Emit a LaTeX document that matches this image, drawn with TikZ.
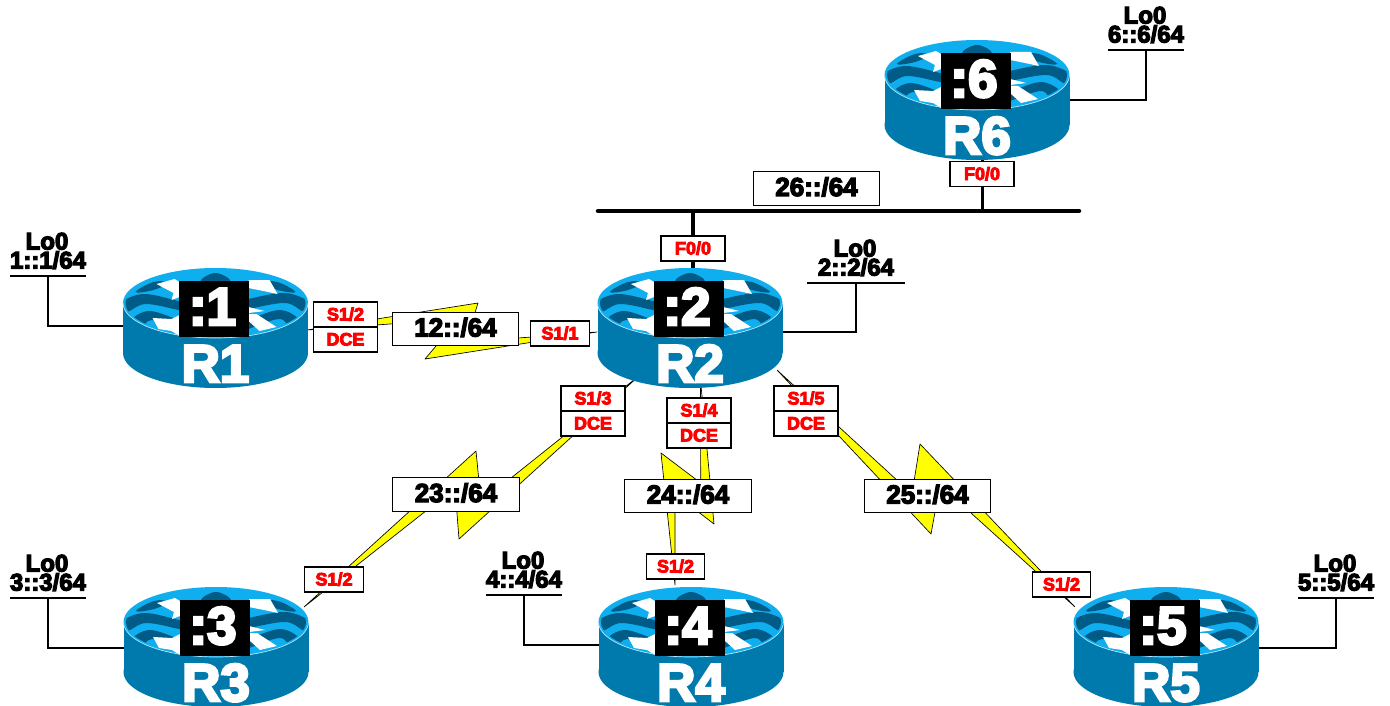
\documentclass[tikz,border=0pt]{standalone}
\usepackage{fontspec}
\usetikzlibrary{backgrounds}
\newfontfamily\hv{Liberation Sans}[BoldFeatures={FakeBold=5}]
\newcommand{\fnt}[1]{\hv\bfseries\fontsize{#1}{#1}\selectfont}
\definecolor{rbody}{HTML}{0079AD}
\definecolor{rtop}{HTML}{0FAEEF}
\definecolor{rdark}{HTML}{005C87}
\definecolor{boltc}{HTML}{FFFF00}
\tikzset{
  x=1pt,y=-1pt,
  wire/.style={draw=black,line width=1.1pt},
  lbl/.style={draw=black,line width=1.2pt,fill=white,text=red,font=\fnt{18},inner sep=0pt,minimum width=64pt,minimum height=25pt,text height=13pt,text depth=1pt,align=center},
  lbls/.style={lbl,minimum width=58.5pt},
  net/.style={draw=black,line width=1.2pt,fill=white,text=black,font=\fnt{26},inner sep=0pt,minimum width=126.5pt,minimum height=33.5pt,text height=19pt,text depth=4pt},
  loname/.style={text=black,font=\fnt{24},inner sep=0pt,text height=17pt,text depth=0pt},
  bolt/.style={draw=black,line width=.65pt,fill=boltc,line join=round},
  rnode/.style={inner sep=0pt,minimum width=185pt,minimum height=118pt},
  rid/.style={text=white,font=\fnt{53},inner sep=0pt,anchor=base,text depth=0pt},
  wave/.style={fill=rdark,draw=none},
  arrowwhite/.style={fill=white,draw=none},
}
\newcommand{\router}[5]{%
\begin{scope}[shift={(#2,#3)}]
  \fill[rbody] (0,50) circle [x radius=92.5pt,y radius=35pt];
  \fill[rbody] (-92.5,0) rectangle (92.5,50);
  \fill[rtop] (0,0) circle [x radius=92.5pt,y radius=35pt];
  \begin{scope}
    \clip (0,0) circle [x radius=90pt,y radius=33pt];
    \fill[wave] plot[smooth cycle,tension=.6] coordinates {(-95,0) (-72,-9) (-37,-2) (-30,0) (-30,8) (-37,7) (-70,1) (-89,9)};
    \fill[wave] plot[smooth cycle,tension=.6] coordinates {(-84,17) (-66,8) (-37,17) (-30,20) (-30,28) (-37,26) (-64,17) (-76,26)};
    \fill[wave] plot[smooth cycle,tension=.6] coordinates {(95,0) (70,-10) (33,-4) (28,-1) (28,7) (33,6) (70,0) (89,9)};
    \fill[wave] plot[smooth cycle,tension=.6] coordinates {(84,17) (64,7) (33,17) (28,20) (28,28) (33,26) (64,16) (76,26)};
    \fill[wave] plot[smooth cycle,tension=.7] coordinates {(-15,-22) (0,-30) (15,-22) (0,-18)};
    \fill[wave] plot[smooth cycle,tension=.7] coordinates {(-80,-11) (-62,-21) (-48,-20) (-62,-13)};
    \fill[wave] plot[smooth cycle,tension=.7] coordinates {(80,-11) (62,-21) (48,-20) (62,-13)};
  \end{scope}
  \fill[arrowwhite] (-59,-19) -- (-41,-24) -- (-36,-21) -- (-36,-6) -- (-44,-3) -- (-42,-10) -- cycle;
  \fill[arrowwhite] (33,-23) -- (54,-23) -- (62,-9) -- (48,-12) -- (33,-15) -- cycle;
  \fill[arrowwhite] (-63,15) -- (-44,16) -- (-36,12) -- (-36,33) -- (-44,28) -- (-57,26) -- cycle;
  \fill[arrowwhite] (33,11) -- (41,11) -- (61,24) -- (44,28) -- (33,18) -- cycle;
  \fill[arrowwhite] (33,4) -- (49,8) -- (33,10) -- cycle;
  \draw[white!70!rtop,line width=.7pt] (-92.5,0) .. controls (-92.5,19.3) and (-51,35) .. (0,35) .. controls (51,35) and (92.5,19.3) .. (92.5,0);
  \fill[black] (-36.5,-22) rectangle (33.5,34);
  \node[rid] (#1id) at (-3,22) {#4};
  \node[rid] (#1name) at (0,79) {#5};
  \node[rnode] (#1) at (0,25) {};
\end{scope}}
\newcommand{\bolt}[7]{%
  \coordinate (#1a) at #2; \coordinate (#1b) at #3; \coordinate (#1c) at #4;
  \coordinate (#1d) at #5; \coordinate (#1e) at #6; \coordinate (#1f) at #7;
  \draw[bolt] (#1a) -- (#1b) -- (#1c) -- (#1d) -- (#1e) -- (#1f) -- cycle;}
% name, bar centre x, bar y, half width, loopback text
\newcommand{\lopb}[5]{%
  \coordinate (#1c) at (#2,#3);
  \coordinate (#1l) at (#2-#4,#3);
  \coordinate (#1r) at (#2+#4,#3);
  \draw[wire,line width=1.5pt] (#1l) -- (#1r);
  \node[loname] (#1t) at (#2-1,#3-35) {Lo0};
  \node[loname] (#1u) at (#2,#3-16) {#5};}
\begin{document}
\begin{tikzpicture}
\useasboundingbox (0,0) rectangle (1390,706);
\router{R1}{215.5}{303}{:1}{R1}
\router{R2}{690}{303}{:2}{R2}
\router{R3}{216}{622}{:3}{R3}
\router{R4}{691}{622}{:4}{R4}
\router{R5}{1166}{622}{:5}{R5}
\router{R6}{977}{75}{:6}{R6}

\lopb{L1}{48}{276}{38}{1::1/64}
\lopb{L2}{856}{283}{49}{2::2/64}
\lopb{L3}{48}{598}{38}{3::3/64}
\lopb{L4}{524}{595}{38}{4::4/64}
\lopb{L5}{1336}{598}{38}{5::5/64}
\lopb{L6}{1146}{50}{38}{6::6/64}

\node[lbl] (a1) at (345.5,314.5) {S1/2};
\node[lbl] (a2) at (345.5,339.5) {DCE};
\node[lbls] (a3) at (560,333.5) {S1/1};
\node[net] (n12) at (455.5,329) {12::/64};
\node[lbl] (b1) at (593,398.5) {S1/3};
\node[lbl] (b2) at (593,423.5) {DCE};
\node[lbl] (c1) at (699,410.5) {S1/4};
\node[lbl] (c2) at (699,435.5) {DCE};
\node[lbl] (d1) at (806,398.5) {S1/5};
\node[lbl] (d2) at (806,423.5) {DCE};
\node[net] (n23) at (456,494.5) {23::/64};
\node[net] (n24) at (688,496) {24::/64};
\node[net] (n25) at (927.5,496) {25::/64};
\node[lbls] (e3) at (334,579.5) {S1/2};
\node[lbls] (e4) at (675.5,566.5) {S1/2};
\node[lbls] (e5) at (1061.5,584.5) {S1/2};
\node[lbl] (f2) at (693,248.5) {F0/0};
\node[lbl] (f6) at (982,174) {F0/0};
\node[net] (n26) at (816.5,188.5) {26::/64};

\begin{scope}[on background layer]
  \coordinate (busl) at (598,211);
  \coordinate (busr) at (1079,211);
  \coordinate (bus2) at (693,211);
  \coordinate (bus6) at (982.5,211);
  \draw[line width=4.5pt,line cap=round] (busl) -- (busr);
  \draw[line width=3.2pt] (bus2) -- (bus2 |- R2);
  \draw[line width=3.2pt] (bus6) -- (bus6 |- R6);
  \draw[wire] (L1c) |- (R1.center |- 0,326);
  \draw[wire] (L3c) |- (R3.center |- 0,648);
  \draw[wire] (L4c) |- (R4.center |- 0,645);
  \draw[wire] (L5c) |- (R5.center |- 0,648);
  \draw[wire] (L2c) |- (R2.center |- 0,332);
  \draw[wire] (L6c) |- (R6.center |- 0,100);
  \bolt{k}{(307,330)}{(459,319)}{(425,359)}{(597,332)}{(466,342)}{(478,303)}
  \bolt{m}{(640,375)}{(481,502)}{(476,451)}{(304,607)}{(455,488)}{(459,539)}
  \bolt{p}{(700.5,380)}{(700.7,483)}{(661,453)}{(675,585)}{(675,494)}{(714,524)}
  \bolt{q}{(777,370)}{(912,494)}{(920,444)}{(1075,607)}{(940,485)}{(931,534)}
\end{scope}
\end{tikzpicture}
\end{document}
